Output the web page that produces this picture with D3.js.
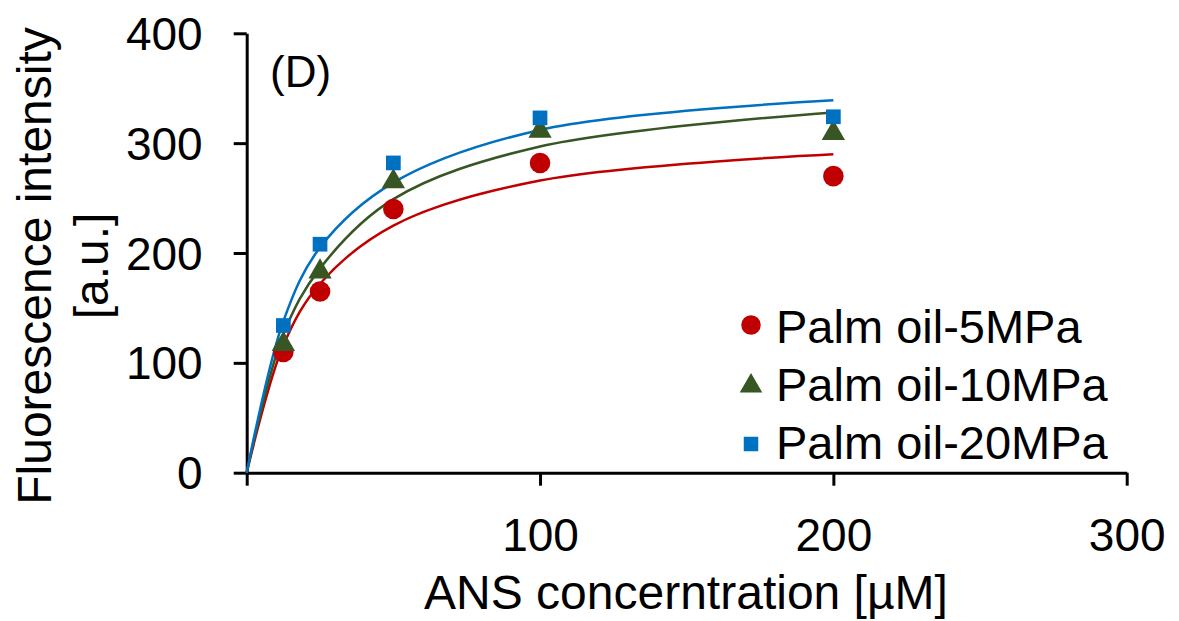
<!DOCTYPE html>
<html>
<head>
<meta charset="utf-8">
<script src="https://cdn.jsdelivr.net/npm/d3@7"></script>
<style>
  html, body { margin: 0; padding: 0; background: #fff; }
  svg { display: block; }
  text { font-family: "Liberation Sans", Arial, sans-serif; fill: #000; }
</style>
</head>
<body>
<svg id="chart" width="1179" height="621"></svg>
<script>
// ---- data ----
const seriesNames = ["Palm oil-5MPa", "Palm oil-10MPa", "Palm oil-20MPa"];
const concentrations = [12.5, 25, 50, 100, 200];
const values5MPa = [110, 165, 240, 282, 270];
const values10MPa = [117, 183, 265, 311, 309];
const values20MPa = [134, 208, 282, 323, 324];
// fitted trend values
const fitConcentrations = [0, 12.5, 25, 50, 100, 200];
const fit5MPa = [0, 116, 172, 225, 266, 290];
const fit10MPa = [0, 126, 186, 249, 297, 328];
const fit20MPa = [0, 138, 205, 264, 312, 339];
const xTicks = [0, 100, 200, 300];
const yTicks = [0, 100, 200, 300, 400];
const colors = ["#C00000", "#375623", "#0070C0"];
const symbols = [d3.symbolCircle, d3.symbolTriangle, d3.symbolSquare];

const svg = d3.select("#chart");
const x = d3.scaleLinear().domain([0, 300]).range([246.7, 1126.7]);
const y = d3.scaleLinear().domain([0, 400]).range([472.7, 33.3]);

const FONT = 46;

// axes
const xAxis = svg.append("g").attr("transform", `translate(0,${y(0)})`)
  .call(d3.axisBottom(x).tickValues(xTicks).tickSizeInner(13).tickSizeOuter(0)
    .tickFormat(d => d === 0 ? "" : d));
const yAxis = svg.append("g").attr("transform", `translate(${x(0)},0)`)
  .call(d3.axisLeft(y).tickValues(yTicks).tickSizeInner(13).tickSizeOuter(0));
[xAxis, yAxis].forEach(g => {
  g.selectAll("path.domain").attr("stroke", "#000").attr("stroke-width", 3);
  g.selectAll(".tick line").attr("stroke", "#000").attr("stroke-width", 3);
  g.selectAll(".tick text").attr("font-family", "Liberation Sans, Arial, sans-serif")
    .attr("font-size", FONT).attr("fill", "#000");
});
xAxis.selectAll(".tick text").attr("dy", null).attr("y", 78);
yAxis.selectAll(".tick text").attr("x", -44).attr("dy", "0.35em");

// axis titles
svg.append("text").attr("x", 686).attr("y", 609).attr("text-anchor", "middle")
  .attr("font-size", 48).text("ANS concerntration [µM]");
const yt = svg.append("text").attr("transform", "translate(0,266) rotate(-90)")
  .attr("text-anchor", "middle").attr("font-size", 48);
yt.append("tspan").attr("x", 0).attr("y", 51).text("Fluorescence intensity");
yt.append("tspan").attr("x", 0).attr("y", 108).text("[a.u.]");

// panel label
svg.append("text").attr("x", 270).attr("y", 87).attr("font-size", 44).text("(D)");

// fitted curves
const fits = [fit5MPa, fit10MPa, fit20MPa];
const line = d3.line().x(d => x(d[0])).y(d => y(d[1])).curve(d3.curveCatmullRom.alpha(0.5));
fits.forEach((f, i) => {
  svg.append("path")
    .datum(fitConcentrations.map((c, j) => [c, f[j]]))
    .attr("fill", "none").attr("stroke", colors[i]).attr("stroke-width", 2.5)
    .attr("d", line);
});

// data points
const series = [values5MPa, values10MPa, values20MPa];
const sizes = [333, 235, 216];
series.forEach((vals, i) => {
  svg.append("g").selectAll("path").data(vals).join("path")
    .attr("transform", (d, j) => `translate(${x(concentrations[j])},${y(d)})`)
    .attr("d", d3.symbol().type(symbols[i]).size(sizes[i]))
    .attr("fill", colors[i]);
});

// legend
const legendMarkerY = [325, 386, 444];
const legendTextY = [327, 385, 443];
const legendSizes = [300, 220, 210];
seriesNames.forEach((name, i) => {
  svg.append("path").attr("transform", `translate(751,${legendMarkerY[i]})`)
    .attr("d", d3.symbol().type(symbols[i]).size(legendSizes[i])).attr("fill", colors[i]);
  svg.append("text").attr("x", 776).attr("y", legendTextY[i]).attr("dy", "0.35em")
    .attr("font-size", 47).text(name);
});
</script>
</body>
</html>
